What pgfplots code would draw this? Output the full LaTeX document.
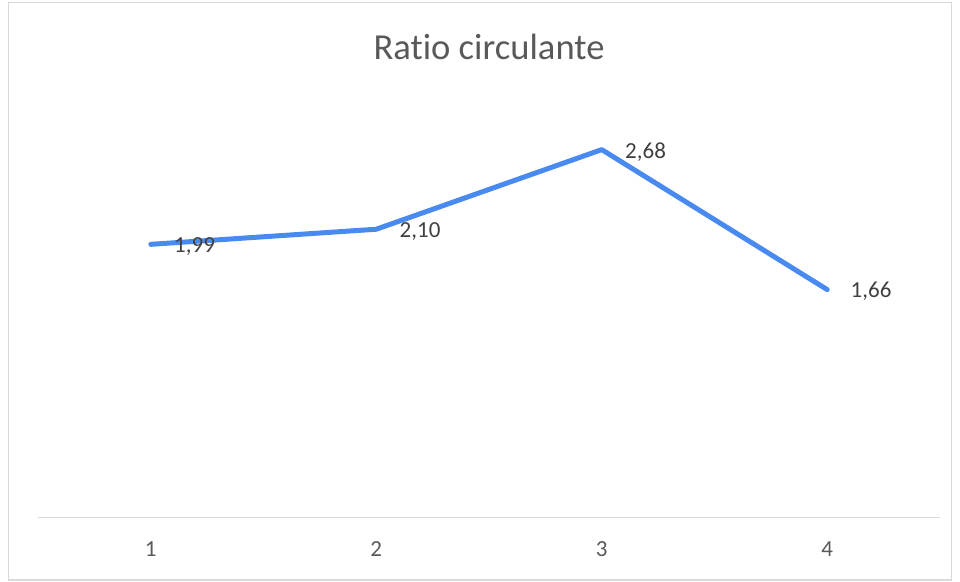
\documentclass[border=0pt]{standalone}
\usepackage{pgfplots}
\pgfplotsset{compat=1.18}
\usepackage{fontspec}
\setmainfont[Ligatures={NoCommon}]{Carlito}
\definecolor{lineblue}{RGB}{72,138,240}
\definecolor{bordergray}{RGB}{217,217,217}
\definecolor{titlegray}{RGB}{89,89,89}
\definecolor{labelgray}{RGB}{64,64,64}
\begin{document}
\begin{tikzpicture}
\useasboundingbox (0pt,0pt) rectangle (480pt,291pt);
\draw[bordergray, line width=0.75pt] (4.25pt,1pt) rectangle (475.75pt,289.75pt);
\node[anchor=base, text=titlegray, font=\fontsize{18.3}{20}\selectfont] at (244.5pt,261pt) {Ratio circulante};
\begin{axis}[
  at={(19pt,32.25pt)}, anchor=south west,
  scale only axis, width=451pt, height=205.9pt,
  xmin=0.5, xmax=4.5, ymin=0, ymax=3,
  axis x line=bottom, axis y line=none,
  x axis line style={draw=bordergray, line width=0.9pt, -},
  xtick={1,2,3,4}, major tick length=0pt,
  /pgf/number format/assume math mode=true,
  xticklabel style={anchor=base, yshift=-19.5pt, text=titlegray, font=\fontsize{11.5}{13}\selectfont},
  clip=false,
  nodes near coords={\pgfmathprintnumber[use comma, fixed, fixed zerofill, precision=2]{\pgfplotspointmeta}},
  every node near coord/.append style={anchor=west, inner sep=0pt, xshift=10.5pt, yshift=-1pt, text=labelgray, font=\fontsize{11.5}{13}\selectfont},
]
\addplot[lineblue, line width=2.5pt, line cap=round, line join=round, mark=none] coordinates {
  (1,1.99) (2,2.10) (3,2.68) (4,1.66)
};
\end{axis}
\end{tikzpicture}
\end{document}
